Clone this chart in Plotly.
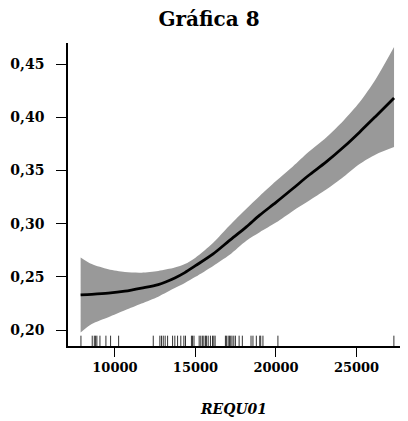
import plotly.graph_objects as go

# Smooth fit (REQU01 vs response) with confidence band
requ01 = [7870, 8560, 9590, 10620, 11650, 12690, 13720, 14340, 15000, 16100, 17100,
          18160, 18990, 20000, 21050, 22000, 23120, 24200, 25190, 26200, 27330]
fit = [0.233, 0.2335, 0.2346, 0.2365, 0.2394, 0.2427, 0.249, 0.254, 0.2605, 0.2716, 0.284,
       0.297, 0.308, 0.320, 0.333, 0.345, 0.358, 0.372, 0.386, 0.401, 0.418]
upper = [0.2683, 0.262, 0.2571, 0.2545, 0.2539, 0.2555, 0.2587, 0.262, 0.268, 0.282, 0.298,
         0.314, 0.326, 0.340, 0.3537, 0.367, 0.381, 0.397, 0.414, 0.436, 0.466]
lower = [0.1976, 0.2056, 0.212, 0.2185, 0.2249, 0.2314, 0.2394, 0.2442, 0.250, 0.2603, 0.2705,
         0.284, 0.292, 0.301, 0.312, 0.321, 0.332, 0.344, 0.356, 0.365, 0.372]

# Rug of observed REQU01 values
rug = [7890, 8590, 8720, 8800, 8880, 9070, 9440, 9730, 10230, 12380, 12790, 12890, 13000,
       13120, 13270, 13580, 13720, 13890, 14090, 14280, 14380, 14750, 14820, 14910, 15230,
       15330, 15430, 15520, 15620, 15680, 15790, 15930, 16060, 16140, 16220, 16860, 16920,
       17030, 17110, 17190, 17270, 17380, 17480, 17710, 17910, 18450, 18570, 18780, 18990,
       19050, 19190, 20120, 27320]

x_ticks = [10000, 15000, 20000, 25000]
y_ticks = [0.20, 0.25, 0.30, 0.35, 0.40, 0.45]
y_tick_labels = ["0,20", "0,25", "0,30", "0,35", "0,40", "0,45"]

x_range = [7086, 27700]
y_range = [0.185, 0.4698]
rug_height = 0.0097

fig = go.Figure()
fig.add_trace(go.Scatter(
    x=requ01, y=lower, mode="lines",
    line=dict(width=0, color="#999999", shape="spline", smoothing=0.8),
    hoverinfo="skip", showlegend=False))
fig.add_trace(go.Scatter(
    x=requ01, y=upper, mode="lines", fill="tonexty", fillcolor="#999999",
    line=dict(width=0, color="#999999", shape="spline", smoothing=0.8),
    hoverinfo="skip", showlegend=False))
fig.add_trace(go.Scatter(
    x=requ01, y=fit, mode="lines",
    line=dict(color="black", width=2.8, shape="spline", smoothing=0.8), showlegend=False))

rx, ry = [], []
for v in rug:
    rx += [v, v, None]
    ry += [y_range[0], y_range[0] + rug_height, None]
fig.add_trace(go.Scatter(x=rx, y=ry, mode="lines",
                         line=dict(color="#333333", width=1), showlegend=False))

# page body has an 8px margin; figure is sized/offset to compensate
W, H = 400, 413
font_family = "DejaVu Serif"
fig.update_layout(
    width=W, height=H,
    margin=dict(l=60, r=8, t=35, b=75, autoexpand=False),
    paper_bgcolor="white", plot_bgcolor="white",
    title=dict(text="<b>Gráfica 8</b>", x=(209 - 8) / W, xanchor="center",
               y=1 - 11 / H, yanchor="middle", yref="container",
               font=dict(family=font_family, size=20, color="black")),
    font=dict(family=font_family, color="black"),
)
fig.update_xaxes(
    range=x_range, tickvals=x_ticks, ticktext=[f"<b>{v}</b>" for v in x_ticks],
    automargin=False,
    showgrid=False, zeroline=False, showline=True, linecolor="black", linewidth=1.5,
    ticks="outside", ticklen=9, tickwidth=1.3, tickcolor="black",
    tickfont=dict(family=font_family, size=13, color="black"),
    ticklabelstandoff=0,
    title=dict(text="<b><i>REQU01</i></b>", standoff=30,
               font=dict(family=font_family, size=14, color="black")))
fig.update_yaxes(
    range=y_range, tickvals=y_ticks, ticktext=[f"<b>{t}</b>" for t in y_tick_labels],
    automargin=False,
    showgrid=False, zeroline=False, showline=True, linecolor="black", linewidth=1.5,
    ticks="outside", ticklen=10, tickwidth=1.3, tickcolor="black",
    tickfont=dict(family=font_family, size=14, color="black"),
    ticklabelstandoff=9)

fig.write_html("out.html")
